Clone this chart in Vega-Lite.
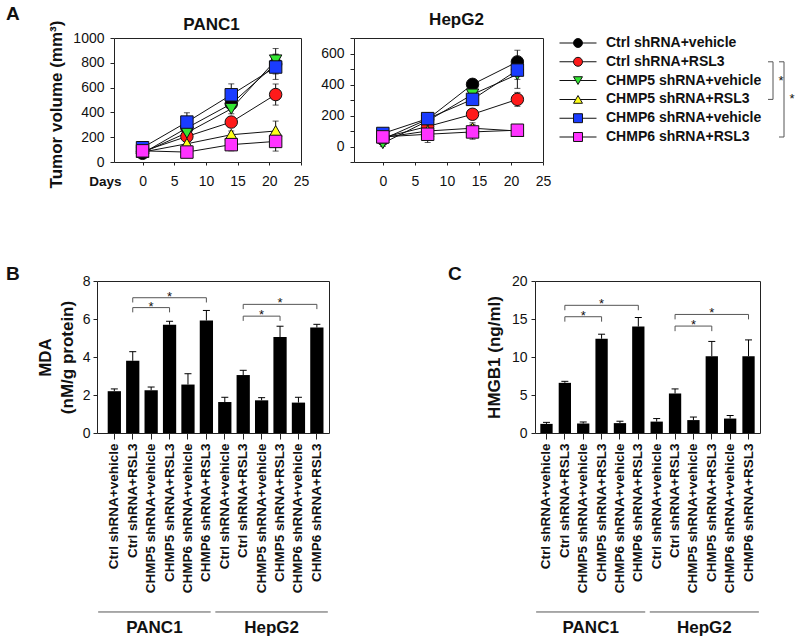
{
  "$schema": "https://vega.github.io/schema/vega-lite/v6.json",
  "padding": {"left": 5, "top": 5, "right": 0, "bottom": 0},
  "background": "white",
  "spacing": 75,
  "config": {
    "font": "Liberation Sans",
    "view": {"stroke": "#222", "strokeWidth": 1},
    "axis": {"domain": false, "grid": false, "tickColor": "#222", "labelColor": "#111", "labelFontSize": 14, "titleFontSize": 17, "titleFontWeight": "bold", "titleColor": "#111", "labelOverlap": false, "titleLimit": 400},
    "title": {"fontWeight": "bold", "color": "#111"}
  },
  "datasets": {
    "series": [
      {"series": "Ctrl shRNA+vehicle"}, {"series": "Ctrl shRNA+RSL3"}, {"series": "CHMP5 shRNA+vehicle"},
      {"series": "CHMP5 shRNA+RSL3"}, {"series": "CHMP6 shRNA+vehicle"}, {"series": "CHMP6 shRNA+RSL3"}
    ],
    "legendSig": [
      {"level": "inner", "from": "Ctrl shRNA+RSL3", "to": "CHMP5 shRNA+RSL3", "mid": "CHMP5 shRNA+vehicle"},
      {"level": "outer", "from": "Ctrl shRNA+RSL3", "to": "CHMP6 shRNA+RSL3", "mid": "CHMP5 shRNA+RSL3"}
    ],
    "tumor": [
      {"cell": "PANC1", "series": "Ctrl shRNA+vehicle", "day": 0, "v": 70, "err": 15},
      {"cell": "PANC1", "series": "Ctrl shRNA+vehicle", "day": 7, "v": 275, "err": 30},
      {"cell": "PANC1", "series": "Ctrl shRNA+vehicle", "day": 14, "v": 469, "err": 40},
      {"cell": "PANC1", "series": "Ctrl shRNA+vehicle", "day": 21, "v": 790, "err": 80},
      {"cell": "PANC1", "series": "Ctrl shRNA+RSL3", "day": 0, "v": 85, "err": 15},
      {"cell": "PANC1", "series": "Ctrl shRNA+RSL3", "day": 7, "v": 206, "err": 30},
      {"cell": "PANC1", "series": "Ctrl shRNA+RSL3", "day": 14, "v": 322, "err": 35},
      {"cell": "PANC1", "series": "Ctrl shRNA+RSL3", "day": 21, "v": 544, "err": 85},
      {"cell": "PANC1", "series": "CHMP5 shRNA+vehicle", "day": 0, "v": 75, "err": 15},
      {"cell": "PANC1", "series": "CHMP5 shRNA+vehicle", "day": 7, "v": 236, "err": 30},
      {"cell": "PANC1", "series": "CHMP5 shRNA+vehicle", "day": 14, "v": 429, "err": 40},
      {"cell": "PANC1", "series": "CHMP5 shRNA+vehicle", "day": 21, "v": 820, "err": 95},
      {"cell": "PANC1", "series": "CHMP5 shRNA+RSL3", "day": 0, "v": 80, "err": 15},
      {"cell": "PANC1", "series": "CHMP5 shRNA+RSL3", "day": 7, "v": 147, "err": 25},
      {"cell": "PANC1", "series": "CHMP5 shRNA+RSL3", "day": 14, "v": 220, "err": 30},
      {"cell": "PANC1", "series": "CHMP5 shRNA+RSL3", "day": 21, "v": 250, "err": 80},
      {"cell": "PANC1", "series": "CHMP6 shRNA+vehicle", "day": 0, "v": 115, "err": 15},
      {"cell": "PANC1", "series": "CHMP6 shRNA+vehicle", "day": 7, "v": 322, "err": 75},
      {"cell": "PANC1", "series": "CHMP6 shRNA+vehicle", "day": 14, "v": 542, "err": 88},
      {"cell": "PANC1", "series": "CHMP6 shRNA+vehicle", "day": 21, "v": 766, "err": 100},
      {"cell": "PANC1", "series": "CHMP6 shRNA+RSL3", "day": 0, "v": 90, "err": 15},
      {"cell": "PANC1", "series": "CHMP6 shRNA+RSL3", "day": 7, "v": 80, "err": 20},
      {"cell": "PANC1", "series": "CHMP6 shRNA+RSL3", "day": 14, "v": 140, "err": 50},
      {"cell": "PANC1", "series": "CHMP6 shRNA+RSL3", "day": 21, "v": 166, "err": 78},
      {"cell": "HepG2", "series": "Ctrl shRNA+vehicle", "day": 0, "v": 47, "err": 20},
      {"cell": "HepG2", "series": "Ctrl shRNA+vehicle", "day": 7, "v": 176, "err": 30},
      {"cell": "HepG2", "series": "Ctrl shRNA+vehicle", "day": 14, "v": 401, "err": 25},
      {"cell": "HepG2", "series": "Ctrl shRNA+vehicle", "day": 21, "v": 546, "err": 75},
      {"cell": "HepG2", "series": "Ctrl shRNA+RSL3", "day": 0, "v": 58, "err": 15},
      {"cell": "HepG2", "series": "Ctrl shRNA+RSL3", "day": 7, "v": 129, "err": 30},
      {"cell": "HepG2", "series": "Ctrl shRNA+RSL3", "day": 14, "v": 208, "err": 30},
      {"cell": "HepG2", "series": "Ctrl shRNA+RSL3", "day": 21, "v": 304, "err": 45},
      {"cell": "HepG2", "series": "CHMP5 shRNA+vehicle", "day": 0, "v": 21, "err": 20},
      {"cell": "HepG2", "series": "CHMP5 shRNA+vehicle", "day": 7, "v": 165, "err": 30},
      {"cell": "HepG2", "series": "CHMP5 shRNA+vehicle", "day": 14, "v": 336, "err": 35},
      {"cell": "HepG2", "series": "CHMP5 shRNA+vehicle", "day": 21, "v": 465, "err": 90},
      {"cell": "HepG2", "series": "CHMP5 shRNA+RSL3", "day": 0, "v": 58, "err": 15},
      {"cell": "HepG2", "series": "CHMP5 shRNA+RSL3", "day": 7, "v": 100, "err": 30},
      {"cell": "HepG2", "series": "CHMP5 shRNA+RSL3", "day": 14, "v": 118, "err": 35},
      {"cell": "HepG2", "series": "CHMP5 shRNA+RSL3", "day": 21, "v": 100, "err": 20},
      {"cell": "HepG2", "series": "CHMP6 shRNA+vehicle", "day": 0, "v": 84, "err": 34},
      {"cell": "HepG2", "series": "CHMP6 shRNA+vehicle", "day": 7, "v": 180, "err": 35},
      {"cell": "HepG2", "series": "CHMP6 shRNA+vehicle", "day": 14, "v": 304, "err": 35},
      {"cell": "HepG2", "series": "CHMP6 shRNA+vehicle", "day": 21, "v": 493, "err": 60},
      {"cell": "HepG2", "series": "CHMP6 shRNA+RSL3", "day": 0, "v": 62, "err": 20},
      {"cell": "HepG2", "series": "CHMP6 shRNA+RSL3", "day": 7, "v": 79, "err": 53},
      {"cell": "HepG2", "series": "CHMP6 shRNA+RSL3", "day": 14, "v": 94, "err": 47},
      {"cell": "HepG2", "series": "CHMP6 shRNA+RSL3", "day": 21, "v": 105, "err": 20}
    ],
    "bars": [
      {"cell": "PANC1", "cond": "Ctrl shRNA+vehicle", "id": "PANC1|Ctrl shRNA+vehicle", "mda": 2.2, "mdaTop": 2.32, "hmgb1": 1.2, "hmgb1Top": 1.4},
      {"cell": "PANC1", "cond": "Ctrl shRNA+RSL3", "id": "PANC1|Ctrl shRNA+RSL3", "mda": 3.8, "mdaTop": 4.28, "hmgb1": 6.6, "hmgb1Top": 6.8},
      {"cell": "PANC1", "cond": "CHMP5 shRNA+vehicle", "id": "PANC1|CHMP5 shRNA+vehicle", "mda": 2.25, "mdaTop": 2.42, "hmgb1": 1.25, "hmgb1Top": 1.45},
      {"cell": "PANC1", "cond": "CHMP5 shRNA+RSL3", "id": "PANC1|CHMP5 shRNA+RSL3", "mda": 5.7, "mdaTop": 5.88, "hmgb1": 12.4, "hmgb1Top": 13.0},
      {"cell": "PANC1", "cond": "CHMP6 shRNA+vehicle", "id": "PANC1|CHMP6 shRNA+vehicle", "mda": 2.55, "mdaTop": 3.12, "hmgb1": 1.3, "hmgb1Top": 1.55},
      {"cell": "PANC1", "cond": "CHMP6 shRNA+RSL3", "id": "PANC1|CHMP6 shRNA+RSL3", "mda": 5.92, "mdaTop": 6.45, "hmgb1": 14.0, "hmgb1Top": 15.2},
      {"cell": "HepG2", "cond": "Ctrl shRNA+vehicle", "id": "HepG2|Ctrl shRNA+vehicle", "mda": 1.63, "mdaTop": 1.88, "hmgb1": 1.5, "hmgb1Top": 1.9},
      {"cell": "HepG2", "cond": "Ctrl shRNA+RSL3", "id": "HepG2|Ctrl shRNA+RSL3", "mda": 3.05, "mdaTop": 3.3, "hmgb1": 5.2, "hmgb1Top": 5.8},
      {"cell": "HepG2", "cond": "CHMP5 shRNA+vehicle", "id": "HepG2|CHMP5 shRNA+vehicle", "mda": 1.72, "mdaTop": 1.86, "hmgb1": 1.7, "hmgb1Top": 2.1},
      {"cell": "HepG2", "cond": "CHMP5 shRNA+RSL3", "id": "HepG2|CHMP5 shRNA+RSL3", "mda": 5.05, "mdaTop": 5.62, "hmgb1": 10.1, "hmgb1Top": 12.05},
      {"cell": "HepG2", "cond": "CHMP6 shRNA+vehicle", "id": "HepG2|CHMP6 shRNA+vehicle", "mda": 1.6, "mdaTop": 1.88, "hmgb1": 1.9, "hmgb1Top": 2.3},
      {"cell": "HepG2", "cond": "CHMP6 shRNA+RSL3", "id": "HepG2|CHMP6 shRNA+RSL3", "mda": 5.55, "mdaTop": 5.72, "hmgb1": 10.1, "hmgb1Top": 12.25}
    ],
    "sig": [
      {"panel": "B", "from": "PANC1|Ctrl shRNA+RSL3", "to": "PANC1|CHMP5 shRNA+RSL3", "mid": "PANC1|CHMP5 shRNA+vehicle", "y": 6.6, "foot": 6.35},
      {"panel": "B", "from": "PANC1|Ctrl shRNA+RSL3", "to": "PANC1|CHMP6 shRNA+RSL3", "mid": "PANC1|CHMP5 shRNA+RSL3", "y": 7.12, "foot": 6.87},
      {"panel": "B", "from": "HepG2|Ctrl shRNA+RSL3", "to": "HepG2|CHMP5 shRNA+RSL3", "mid": "HepG2|CHMP5 shRNA+vehicle", "y": 6.15, "foot": 5.9},
      {"panel": "B", "from": "HepG2|Ctrl shRNA+RSL3", "to": "HepG2|CHMP6 shRNA+RSL3", "mid": "HepG2|CHMP5 shRNA+RSL3", "y": 6.77, "foot": 6.52},
      {"panel": "C", "from": "PANC1|Ctrl shRNA+RSL3", "to": "PANC1|CHMP5 shRNA+RSL3", "mid": "PANC1|CHMP5 shRNA+vehicle", "y": 15.3, "foot": 14.65},
      {"panel": "C", "from": "PANC1|Ctrl shRNA+RSL3", "to": "PANC1|CHMP6 shRNA+RSL3", "mid": "PANC1|CHMP5 shRNA+RSL3", "y": 16.8, "foot": 16.15},
      {"panel": "C", "from": "HepG2|Ctrl shRNA+RSL3", "to": "HepG2|CHMP5 shRNA+RSL3", "mid": "HepG2|CHMP5 shRNA+vehicle", "y": 14.07, "foot": 13.4},
      {"panel": "C", "from": "HepG2|Ctrl shRNA+RSL3", "to": "HepG2|CHMP6 shRNA+RSL3", "mid": "HepG2|CHMP5 shRNA+RSL3", "y": 15.6, "foot": 14.95}
    ],
    "cells": [{"cell": "PANC1"}, {"cell": "HepG2"}]
  },
  "vconcat": [
    {
      "bounds": "flush",
      "spacing": 0,
      "hconcat": [
        {
          "width": 17, "height": 124,
          "view": {"stroke": null},
          "title": {"text": "A", "anchor": "start", "frame": "group", "fontSize": 19, "dx": -91, "offset": 14},
          "data": {"values": []},
          "mark": {"type": "point", "opacity": 0},
          "encoding": {}
        },
        {
          "width": 187, "height": 124,
          "title": {"text": "PANC1", "fontSize": 17, "frame": "group", "offset": -14, "dx": 4},
          "data": {"name": "tumor"},
          "transform": [{"filter": "datum.cell === 'PANC1'"}],
          "encoding": {
            "x": {"field": "day", "type": "quantitative", "scale": {"domain": [-4.5, 25], "nice": false, "zero": false},
                  "axis": {"values": [0, 5, 10, 15, 20, 25], "title": "Days", "titleAngle": 0, "titleX": 7, "titleY": 23, "titleAlign": "right", "titleBaseline": "alphabetic", "titleFontSize": 13.5, "tickSize": 3, "labelPadding": 9, "labelFlush": false, "labelOverlap": false}},
            "y": {"field": "v", "type": "quantitative", "scale": {"domain": [0, 1000], "nice": false},
                  "axis": {"values": [0, 200, 400, 600, 800, 1000], "format": "d", "title": "Tumor volume (mm³)", "titleY": 66, "tickSize": 4, "labelPadding": 6, "titlePadding": 7, "labelOverlap": false}}
          },
          "layer": [
            {"mark": {"type": "line", "color": "#111", "strokeWidth": 1}, "encoding": {"detail": {"field": "series"}}},
            {"mark": {"type": "errorbar", "color": "#111", "ticks": {"size": 6, "color": "#111"}}, "encoding": {"yError": {"field": "err"}}},
            {"mark": {"type": "point", "filled": true, "size": 155, "stroke": "#111", "strokeWidth": 1, "opacity": 1},
             "encoding": {
               "shape": {"field": "series", "type": "nominal", "scale": {"domain": ["Ctrl shRNA+vehicle", "Ctrl shRNA+RSL3", "CHMP5 shRNA+vehicle", "CHMP5 shRNA+RSL3", "CHMP6 shRNA+vehicle", "CHMP6 shRNA+RSL3"], "range": ["circle", "circle", "triangle-down", "triangle-up", "square", "square"]}, "legend": null},
               "fill": {"field": "series", "type": "nominal", "scale": {"domain": ["Ctrl shRNA+vehicle", "Ctrl shRNA+RSL3", "CHMP5 shRNA+vehicle", "CHMP5 shRNA+RSL3", "CHMP6 shRNA+vehicle", "CHMP6 shRNA+RSL3"], "range": ["#000000", "#ff1a1a", "#33e633", "#ffff1a", "#1a3cff", "#ff33ff"]}, "legend": null}
             }}
          ]
        },
        {
          "width": 53, "height": 124,
          "view": {"stroke": null},
          "data": {"values": []},
          "mark": {"type": "point", "opacity": 0},
          "encoding": {}
        },
        {
          "width": 189, "height": 124,
          "title": {"text": "HepG2", "fontSize": 17, "frame": "group", "offset": 2, "dx": 8},
          "data": {"name": "tumor"},
          "transform": [{"filter": "datum.cell === 'HepG2'"}],
          "encoding": {
            "x": {"field": "day", "type": "quantitative", "scale": {"domain": [-4.5, 25], "nice": false, "zero": false},
                  "axis": {"values": [0, 5, 10, 15, 20, 25], "title": null, "tickSize": 3, "labelPadding": 9, "labelFlush": false, "labelOverlap": false}},
            "y": {"field": "v", "type": "quantitative", "scale": {"domain": [-100, 700], "nice": false, "zero": false},
                  "axis": {"values": [-100, 0, 100, 200, 300, 400, 500, 600, 700], "labelExpr": "datum.value % 200 === 0 ? datum.label : ''", "title": null, "tickSize": 4, "labelPadding": 6, "labelOverlap": false}}
          },
          "layer": [
            {"mark": {"type": "line", "color": "#111", "strokeWidth": 1}, "encoding": {"detail": {"field": "series"}}},
            {"mark": {"type": "errorbar", "color": "#111", "ticks": {"size": 6, "color": "#111"}}, "encoding": {"yError": {"field": "err"}}},
            {"mark": {"type": "point", "filled": true, "size": 155, "stroke": "#111", "strokeWidth": 1, "opacity": 1},
             "encoding": {
               "shape": {"field": "series", "type": "nominal", "scale": {"domain": ["Ctrl shRNA+vehicle", "Ctrl shRNA+RSL3", "CHMP5 shRNA+vehicle", "CHMP5 shRNA+RSL3", "CHMP6 shRNA+vehicle", "CHMP6 shRNA+RSL3"], "range": ["circle", "circle", "triangle-down", "triangle-up", "square", "square"]}, "legend": null},
               "fill": {"field": "series", "type": "nominal", "scale": {"domain": ["Ctrl shRNA+vehicle", "Ctrl shRNA+RSL3", "CHMP5 shRNA+vehicle", "CHMP5 shRNA+RSL3", "CHMP6 shRNA+vehicle", "CHMP6 shRNA+RSL3"], "range": ["#000000", "#ff1a1a", "#33e633", "#ffff1a", "#1a3cff", "#ff33ff"]}, "legend": null}
             }}
          ]
        },
        {
          "width": 12, "height": 124,
          "view": {"stroke": null},
          "data": {"values": []},
          "mark": {"type": "point", "opacity": 0},
          "encoding": {}
        },
        {
          "width": 46, "height": 104,
          "view": {"stroke": null},
          "data": {"name": "series"},
          "encoding": {"y": {"field": "series", "type": "nominal", "sort": null, "scale": {"type": "point", "padding": 0.266}, "axis": null}},
          "layer": [
            {"mark": {"type": "tick", "orient": "horizontal", "size": 37, "thickness": 1, "color": "#111", "opacity": 1}},
            {"mark": {"type": "point", "filled": true, "size": 80, "stroke": "#111", "strokeWidth": 1, "opacity": 1},
             "encoding": {
               "shape": {"field": "series", "type": "nominal", "scale": {"domain": ["Ctrl shRNA+vehicle", "Ctrl shRNA+RSL3", "CHMP5 shRNA+vehicle", "CHMP5 shRNA+RSL3", "CHMP6 shRNA+vehicle", "CHMP6 shRNA+RSL3"], "range": ["circle", "circle", "triangle-down", "triangle-up", "square", "square"]}, "legend": null},
               "fill": {"field": "series", "type": "nominal", "scale": {"domain": ["Ctrl shRNA+vehicle", "Ctrl shRNA+RSL3", "CHMP5 shRNA+vehicle", "CHMP5 shRNA+RSL3", "CHMP6 shRNA+vehicle", "CHMP6 shRNA+RSL3"], "range": ["#000000", "#ff1a1a", "#33e633", "#ffff1a", "#1a3cff", "#ff33ff"]}, "legend": null}
             }},
            {"mark": {"type": "text", "align": "left", "baseline": "middle", "dx": 28, "fontSize": 14, "fontWeight": "bold", "color": "#111"},
             "encoding": {"text": {"field": "series"}}}
          ]
        },
        {
          "width": 172, "height": 104,
          "view": {"stroke": null},
          "data": {"values": []},
          "mark": {"type": "point", "opacity": 0},
          "encoding": {}
        },
        {
          "width": 11, "height": 104,
          "view": {"stroke": null},
          "data": {"name": "legendSig"},
          "encoding": {"x": {"field": "level", "type": "nominal", "sort": null, "scale": {"type": "point", "padding": 0, "domain": ["inner", "outer"]}, "axis": null}},
          "layer": [
            {"mark": {"type": "rule", "color": "#555"},
             "encoding": {"y": {"field": "from", "type": "nominal", "scale": {"type": "point", "padding": 0.266, "domain": ["Ctrl shRNA+vehicle", "Ctrl shRNA+RSL3", "CHMP5 shRNA+vehicle", "CHMP5 shRNA+RSL3", "CHMP6 shRNA+vehicle", "CHMP6 shRNA+RSL3"]}, "axis": null}, "y2": {"field": "to"}}},
            {"mark": {"type": "tick", "orient": "horizontal", "size": 5, "thickness": 1, "color": "#555", "opacity": 1, "xOffset": -2.5},
             "encoding": {"y": {"field": "from", "type": "nominal"}}},
            {"mark": {"type": "tick", "orient": "horizontal", "size": 5, "thickness": 1, "color": "#555", "opacity": 1, "xOffset": -2.5},
             "encoding": {"y": {"field": "to", "type": "nominal"}}},
            {"mark": {"type": "text", "text": "*", "fontSize": 13, "dx": 8, "baseline": "middle", "color": "#111"},
             "encoding": {"y": {"field": "mid", "type": "nominal"}}}
          ]
        }
      ]
    },
    {
      "bounds": "flush",
      "spacing": 0,
      "hconcat": [
        {
          "width": 232, "height": 152,
          "title": {"text": "B", "anchor": "start", "frame": "group", "fontSize": 19, "dx": -91, "offset": -10},
          "resolve": {"scale": {"x": "independent"}},
          "layer": [
            {
              "layer": [
                {"data": {"name": "bars"}, "mark": {"type": "bar", "color": "#000"},
                 "encoding": {
                   "x": {"field": "id", "type": "nominal", "sort": null,
                         "scale": {"domain": ["PANC1|Ctrl shRNA+vehicle", "PANC1|Ctrl shRNA+RSL3", "PANC1|CHMP5 shRNA+vehicle", "PANC1|CHMP5 shRNA+RSL3", "PANC1|CHMP6 shRNA+vehicle", "PANC1|CHMP6 shRNA+RSL3", "HepG2|Ctrl shRNA+vehicle", "HepG2|Ctrl shRNA+RSL3", "HepG2|CHMP5 shRNA+vehicle", "HepG2|CHMP5 shRNA+RSL3", "HepG2|CHMP6 shRNA+vehicle", "HepG2|CHMP6 shRNA+RSL3"], "paddingInner": 0.28, "paddingOuter": 0.44, "align": 0.66},
                         "axis": {"title": null, "labelAngle": -90, "labelExpr": "split(datum.label, '|')[1]", "labelFontWeight": "bold", "labelFontSize": 13.5, "tickSize": 6, "labelPadding": 4, "labelOverlap": false}},
                   "y": {"field": "mda", "type": "quantitative", "scale": {"domain": [0, 8], "nice": false},
                         "axis": {"tickCount": 5, "title": ["MDA", "(nM/g protein)"], "titleLineHeight": 22, "tickSize": 4, "labelPadding": 3, "titlePadding": 6, "labelOverlap": false}}
                 }},
                {"data": {"name": "bars"}, "mark": {"type": "rule", "color": "#000"},
                 "encoding": {"x": {"field": "id", "type": "nominal", "sort": null}, "y": {"field": "mda", "type": "quantitative"}, "y2": {"field": "mdaTop"}}},
                {"data": {"name": "bars"}, "mark": {"type": "tick", "orient": "horizontal", "size": 7, "thickness": 1, "color": "#000", "opacity": 1},
                 "encoding": {"x": {"field": "id", "type": "nominal", "sort": null}, "y": {"field": "mdaTop", "type": "quantitative"}}},
                {"data": {"name": "sig"}, "transform": [{"filter": "datum.panel === 'B'"}],
                 "layer": [
                   {"mark": {"type": "rule", "color": "#555"}, "encoding": {"x": {"field": "from", "type": "nominal", "bandPosition": 0.5}, "x2": {"field": "to", "bandPosition": 0.5}, "y": {"field": "y", "type": "quantitative"}}},
                   {"mark": {"type": "rule", "color": "#555"}, "encoding": {"x": {"field": "from", "type": "nominal"}, "y": {"field": "y", "type": "quantitative"}, "y2": {"field": "foot"}}},
                   {"mark": {"type": "rule", "color": "#555"}, "encoding": {"x": {"field": "to", "type": "nominal"}, "y": {"field": "y", "type": "quantitative"}, "y2": {"field": "foot"}}},
                   {"mark": {"type": "text", "text": "*", "fontSize": 13, "baseline": "alphabetic", "dy": 3, "color": "#111"}, "encoding": {"x": {"field": "mid", "type": "nominal"}, "y": {"field": "y", "type": "quantitative"}}}
                 ]}
              ]
            },
            {
              "data": {"name": "cells"},
              "layer": [
                {"mark": {"type": "rule", "color": "#555"},
                 "encoding": {"x": {"field": "cell", "type": "nominal", "sort": null, "bandPosition": 0, "scale": {"paddingInner": 0.04, "paddingOuter": 0.01}, "axis": null},
                              "x2": {"field": "cell", "bandPosition": 1},
                              "y": {"datum": -9.42, "type": "quantitative"}}},
                {"mark": {"type": "text", "fontSize": 17, "fontWeight": "bold", "baseline": "middle", "color": "#111"},
                 "encoding": {"x": {"field": "cell", "type": "nominal", "sort": null, "axis": null}, "y": {"datum": -10.28, "type": "quantitative"}, "text": {"field": "cell"}}}
              ]
            }
          ]
        },
        {
          "width": 206, "height": 152,
          "view": {"stroke": null},
          "data": {"values": []},
          "mark": {"type": "point", "opacity": 0},
          "encoding": {}
        },
        {
          "width": 225, "height": 152,
          "title": {"text": "C", "anchor": "start", "frame": "group", "fontSize": 19, "dx": -87, "offset": -10},
          "resolve": {"scale": {"x": "independent"}},
          "layer": [
            {
              "layer": [
                {"data": {"name": "bars"}, "mark": {"type": "bar", "color": "#000"},
                 "encoding": {
                   "x": {"field": "id", "type": "nominal", "sort": null,
                         "scale": {"domain": ["PANC1|Ctrl shRNA+vehicle", "PANC1|Ctrl shRNA+RSL3", "PANC1|CHMP5 shRNA+vehicle", "PANC1|CHMP5 shRNA+RSL3", "PANC1|CHMP6 shRNA+vehicle", "PANC1|CHMP6 shRNA+RSL3", "HepG2|Ctrl shRNA+vehicle", "HepG2|Ctrl shRNA+RSL3", "HepG2|CHMP5 shRNA+vehicle", "HepG2|CHMP5 shRNA+RSL3", "HepG2|CHMP6 shRNA+vehicle", "HepG2|CHMP6 shRNA+RSL3"], "paddingInner": 0.33, "paddingOuter": 0.29, "align": 0.5},
                         "axis": {"title": null, "labelAngle": -90, "labelExpr": "split(datum.label, '|')[1]", "labelFontWeight": "bold", "labelFontSize": 13.5, "tickSize": 6, "labelPadding": 4, "labelOverlap": false}},
                   "y": {"field": "hmgb1", "type": "quantitative", "scale": {"domain": [0, 20], "nice": false},
                         "axis": {"tickCount": 5, "title": "HMGB1 (ng/ml)", "tickSize": 4, "labelPadding": 4, "titlePadding": 8, "labelOverlap": false}}
                 }},
                {"data": {"name": "bars"}, "mark": {"type": "rule", "color": "#000"},
                 "encoding": {"x": {"field": "id", "type": "nominal", "sort": null}, "y": {"field": "hmgb1", "type": "quantitative"}, "y2": {"field": "hmgb1Top"}}},
                {"data": {"name": "bars"}, "mark": {"type": "tick", "orient": "horizontal", "size": 7, "thickness": 1, "color": "#000", "opacity": 1},
                 "encoding": {"x": {"field": "id", "type": "nominal", "sort": null}, "y": {"field": "hmgb1Top", "type": "quantitative"}}},
                {"data": {"name": "sig"}, "transform": [{"filter": "datum.panel === 'C'"}],
                 "layer": [
                   {"mark": {"type": "rule", "color": "#555"}, "encoding": {"x": {"field": "from", "type": "nominal", "bandPosition": 0.5}, "x2": {"field": "to", "bandPosition": 0.5}, "y": {"field": "y", "type": "quantitative"}}},
                   {"mark": {"type": "rule", "color": "#555"}, "encoding": {"x": {"field": "from", "type": "nominal"}, "y": {"field": "y", "type": "quantitative"}, "y2": {"field": "foot"}}},
                   {"mark": {"type": "rule", "color": "#555"}, "encoding": {"x": {"field": "to", "type": "nominal"}, "y": {"field": "y", "type": "quantitative"}, "y2": {"field": "foot"}}},
                   {"mark": {"type": "text", "text": "*", "fontSize": 13, "baseline": "alphabetic", "dy": 3, "color": "#111"}, "encoding": {"x": {"field": "mid", "type": "nominal"}, "y": {"field": "y", "type": "quantitative"}}}
                 ]}
              ]
            },
            {
              "data": {"name": "cells"},
              "layer": [
                {"mark": {"type": "rule", "color": "#555"},
                 "encoding": {"x": {"field": "cell", "type": "nominal", "sort": null, "bandPosition": 0, "scale": {"paddingInner": 0.04, "paddingOuter": 0.01}, "axis": null},
                              "x2": {"field": "cell", "bandPosition": 1},
                              "y": {"datum": -23.55, "type": "quantitative"}}},
                {"mark": {"type": "text", "fontSize": 17, "fontWeight": "bold", "baseline": "middle", "color": "#111"},
                 "encoding": {"x": {"field": "cell", "type": "nominal", "sort": null, "axis": null}, "y": {"datum": -25.7, "type": "quantitative"}, "text": {"field": "cell"}}}
              ]
            }
          ]
        }
      ]
    }
  ]
}
